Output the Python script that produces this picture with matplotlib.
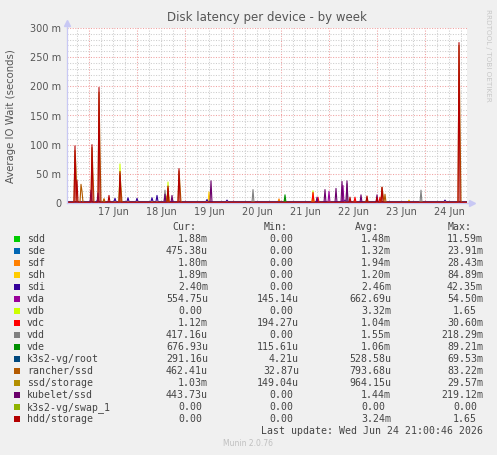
import numpy as np
import pandas as pd
import matplotlib
matplotlib.use("Agg")
import matplotlib.pyplot as plt
from matplotlib.patches import Rectangle

# series, in munin draw order (last one on top)
names = ["sdd", "sde", "sdf", "sdh", "sdi", "vda", "vdb", "vdc", "vdd", "vde",
         "k3s2-vg/root", "rancher/ssd", "ssd/storage", "kubelet/ssd",
         "k3s2-vg/swap_1", "hdd/storage"]
colors = ["#00CC00", "#0066B3", "#FF8000", "#FFCC00", "#330099", "#990099",
          "#CCFF00", "#FF0000", "#808080", "#008F00", "#00487D", "#B35A00",
          "#B38F00", "#6B006B", "#8FB300", "#B30000"]

cur = ["1.88m", "475.38u", "1.80m", "1.89m", "2.40m", "554.75u", "0.00", "1.12m",
       "417.16u", "676.93u", "291.16u", "462.41u", "1.03m", "443.73u", "0.00", "0.00"]
mins = ["0.00", "0.00", "0.00", "0.00", "0.00", "145.14u", "0.00", "194.27u",
        "0.00", "115.61u", "4.21u", "32.87u", "149.04u", "0.00", "0.00", "0.00"]
avgs = ["1.48m", "1.32m", "1.94m", "1.20m", "2.46m", "662.69u", "3.32m", "1.04m",
        "1.55m", "1.06m", "528.58u", "793.68u", "964.15u", "1.44m", "0.00", "3.24m"]
maxs = ["11.59m", "23.91m", "28.43m", "84.89m", "42.35m", "54.50m", "1.65", "30.60m",
        "218.29m", "89.21m", "69.53m", "83.22m", "29.57m", "219.12m", "0.00", "1.65"]

# resting level of each series (milliseconds)
base_ms = [0.8, 0.6, 2.0, 0.8, 2.5, 0.6, 0.0, 1.0, 0.5, 0.7, 0.4, 1.2, 1.0, 0.5, 0.0, 0.8]

# visible spikes: (30-minute sample index, value in ms)
spikes = {
    "sdd": [(17, 3), (218, 5)],
    "sde": [(30, 4)],
    "sdf": [(37, 7), (212, 7), (342, 4)],
    "sdh": [(142, 19), (246, 15), (342, 5)],
    "sdi": [(48, 8), (61, 9), (70, 8), (85, 9), (90, 13), (140, 6), (160, 5),
            (278, 5), (378, 5)],
    "vda": [(262, 20), (276, 30)],
    "vdb": [(53, 67), (101, 36), (246, 21)],
    "vdc": [(246, 18), (251, 10), (288, 10), (313, 10)],
    "vdd": [(98, 22), (186, 23), (280, 33), (354, 22)],
    "vde": [(218, 14)],
    "k3s2-vg/root": [],
    "rancher/ssd": [(8, 90), (9, 60), (14, 32), (15, 20), (25, 95), (26, 50),
                    (32, 190), (33, 90), (37, 7), (53, 50), (54, 25), (101, 25),
                    (112, 55), (113, 30), (315, 27), (316, 15), (318, 15),
                    (392, 270), (393, 140)],
    "ssd/storage": [(100, 12), (300, 10)],
    "kubelet/ssd": [(24, 22), (31, 17), (98, 15), (105, 13), (144, 38), (250, 10),
                    (258, 23), (269, 25), (275, 37), (280, 38), (294, 14), (310, 14)],
    "k3s2-vg/swap_1": [],
    "hdd/storage": [(8, 98), (10, 39), (25, 100), (32, 198), (42, 13), (53, 54),
                    (101, 29), (112, 59), (283, 10), (300, 12), (310, 10),
                    (315, 27), (392, 275)],
}

times = pd.date_range("2026-06-16 13:00", "2026-06-24 21:00", freq="30min")
day_labels = ["17 Jun", "18 Jun", "19 Jun", "20 Jun", "21 Jun", "22 Jun", "23 Jun", "24 Jun"]
ytick_vals = [0, 0.05, 0.10, 0.15, 0.20, 0.25, 0.30]
ytick_labels = ["0", "50 m", "100 m", "150 m", "200 m", "250 m", "300 m"]

W, H = 497, 455
fig = plt.figure(figsize=(W / 100, H / 100), dpi=100, facecolor="#F0F0F0")
ax = fig.add_axes([67 / W, 1 - 203 / H, 400 / W, 175 / H])
ax.set_facecolor("white")

# grid: gray every 6h / 10m, red every day / 50m
for t in pd.date_range("2026-06-16 18:00", "2026-06-24 18:00", freq="6h"):
    c = "#F0A0A0" if t.hour == 0 else "#CCCCCC"
    ax.axvline(t, color=c, lw=0.75, ls=(0, (1, 1.5)), zorder=0)
for v in np.arange(0.01, 0.301, 0.01):
    c = "#F0A0A0" if round(v * 1000) % 50 == 0 else "#CCCCCC"
    ax.axhline(v, color=c, lw=0.75, ls=(0, (1, 1.5)), zorder=0)

for name, col, b in zip(names, colors, base_ms):
    y = np.full(len(times), b)
    for i, v in spikes[name]:
        y[i] = v
    ax.plot(times, y / 1000.0, color=col, lw=0.8, zorder=2)

ax.set_xlim(times[0], times[-1])
ax.set_ylim(0, 0.3)
ax.set_xticks(pd.date_range("2026-06-17 12:00", periods=8, freq="D"))
ax.set_xticklabels(day_labels)
ax.set_yticks(ytick_vals)
ax.set_yticklabels(ytick_labels)
ax.tick_params(axis="both", length=0, labelsize=7, colors="#555555", pad=4)
ax.tick_params(axis="x", pad=3)

for s in ["top", "right"]:
    ax.spines[s].set_visible(False)
for s in ["left", "bottom"]:
    ax.spines[s].set_color("#C8C8F4")
    ax.spines[s].set_linewidth(0.9)
    ax.spines[s].set_zorder(3)
# axis arrows
ax.plot([1.0, 1.012], [0, 0], color="#C8C8F4", lw=0.9, transform=ax.transAxes, clip_on=False)
ax.plot([1.012], [0], marker=">", ms=4, color="#C8C8F4", transform=ax.transAxes, clip_on=False)
ax.plot([0, 0], [1.0, 1.03], color="#C8C8F4", lw=0.9, transform=ax.transAxes, clip_on=False)
ax.plot([0], [1.03], marker="^", ms=4, color="#C8C8F4", transform=ax.transAxes, clip_on=False)

fig.text(267 / W, 1 - 18 / H, "Disk latency per device - by week", ha="center", va="center",
         fontsize=8.5, color="#555555")
fig.text(11 / W, 1 - 116 / H, "Average IO Wait (seconds)", rotation=90, ha="center",
         va="center", fontsize=7.3, color="#555555")
fig.text(488 / W, 1 - 55 / H, "RRDTOOL / TOBI OETIKER", rotation=270, ha="center",
         va="center", fontsize=5.2, color="#C8C8C8")

# legend table
mono = "DejaVu Sans Mono"
fs = 7.1
cw = 0.602 * fs * 100 / 72
col_right = [208, 299, 391, 483]
headers = ["Cur:", "Min:", "Avg:", "Max:"]
tc = "#444444"

for xr, h in zip(col_right, headers):
    fig.text((xr - 2 * cw) / W, 1 - 227 / H, h, ha="right", va="center",
             family=mono, fontsize=fs, color=tc)

for k, name in enumerate(names):
    yc = 239.3 + 12.0 * k
    fig.add_artist(Rectangle((14 / W, 1 - (yc + 3) / H), 6 / W, 6 / H,
                             transform=fig.transFigure, color=colors[k], lw=0))
    fig.text(27 / W, 1 - yc / H, name, ha="left", va="center",
             family=mono, fontsize=fs, color=tc)
    for xr, vals in zip(col_right, [cur, mins, avgs, maxs]):
        v = vals[k]
        shift = 0 if v[-1] in "mu" else cw
        fig.text((xr - shift) / W, 1 - yc / H, v, ha="right", va="center",
                 family=mono, fontsize=fs, color=tc)

fig.text(483 / W, 1 - 431.3 / H, "Last update: Wed Jun 24 21:00:46 2026", ha="right",
         va="center", family=mono, fontsize=fs, color=tc)
fig.text(248 / W, 1 - 444 / H, "Munin 2.0.76", ha="center", va="center",
         fontsize=5.5, color="#C0C0C0")

fig.savefig("out.png", dpi=100, facecolor=fig.get_facecolor())
